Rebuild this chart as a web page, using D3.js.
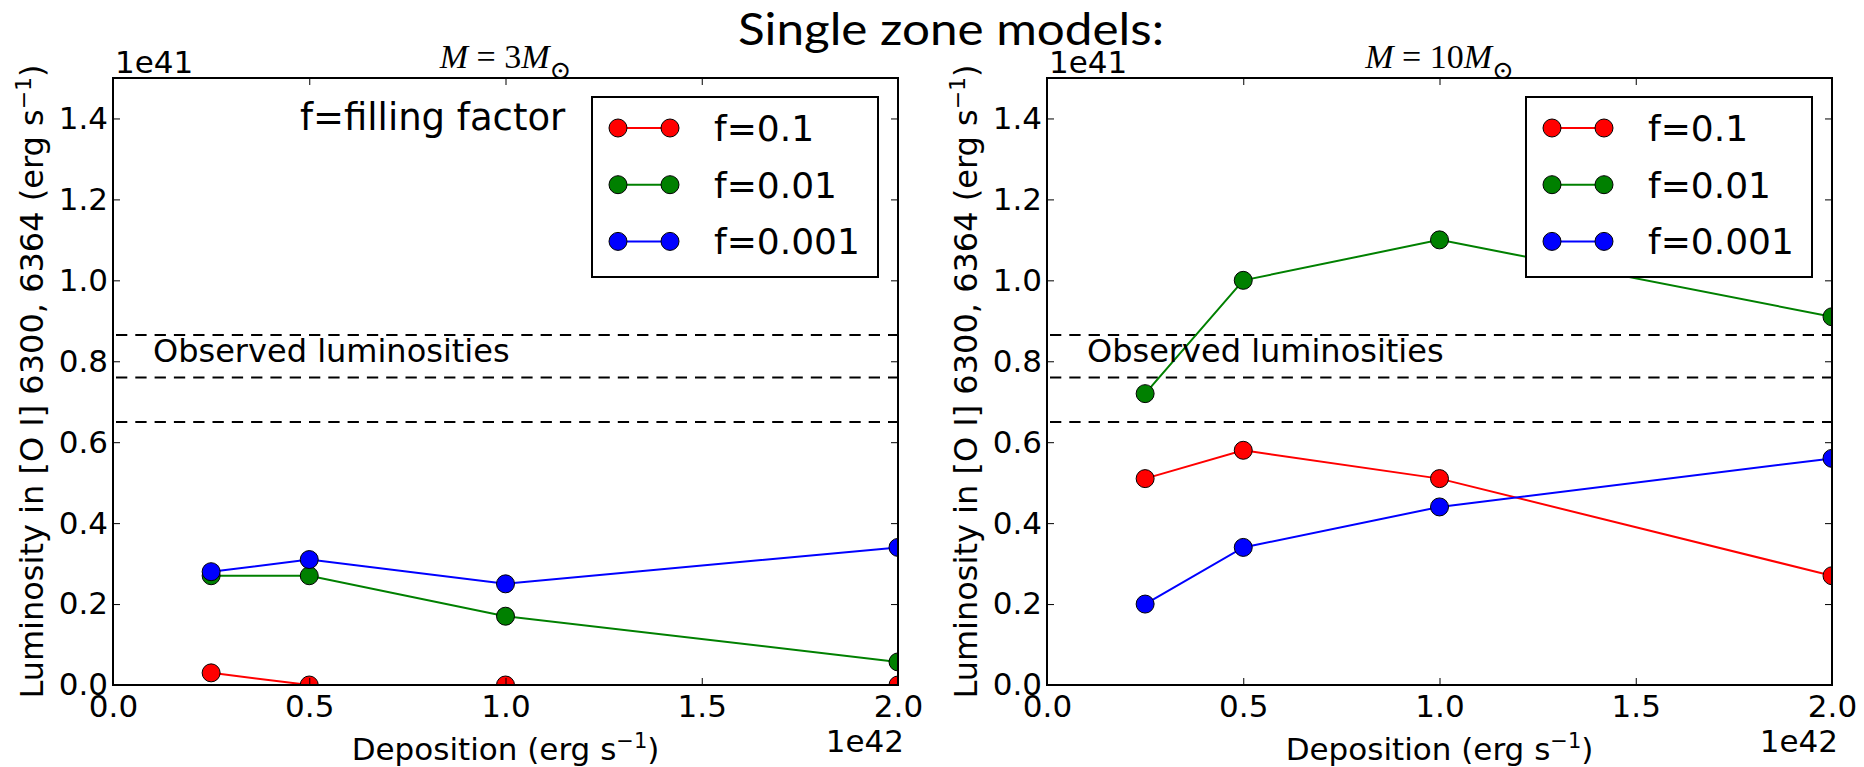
<!DOCTYPE html>
<html>
<head>
<meta charset="utf-8">
<script src="https://cdn.jsdelivr.net/npm/d3@7/dist/d3.min.js"></script>
<style>
  html, body { margin: 0; padding: 0; background: #fff; }
  svg { display: block; }
  text { font-family: "DejaVu Sans", sans-serif; fill: #000; }
</style>
</head>
<body>
<svg id="chart" width="1864" height="767"></svg>
<script>
// ---- data ----
const deposition = [0.25, 0.5, 1.0, 2.0];           // x values (units of 1e42 erg/s)
const seriesNames = ["f=0.1", "f=0.01", "f=0.001"];
const seriesColors = ["#ff0000", "#008000", "#0000ff"];
const m3_f01   = [0.03, 0.0, 0.0, 0.0];
const m3_f001  = [0.27, 0.27, 0.17, 0.057];
const m3_f0001 = [0.28, 0.31, 0.25, 0.34];
const m10_f01   = [0.51, 0.58, 0.51, 0.27];
const m10_f001  = [0.72, 1.00, 1.10, 0.91];
const m10_f0001 = [0.20, 0.34, 0.44, 0.56];
const observedLum = [0.865, 0.76, 0.65];
const xTicks = [0.0, 0.5, 1.0, 1.5, 2.0];
const yTicks = [0.0, 0.2, 0.4, 0.6, 0.8, 1.0, 1.2, 1.4];
const panels = [
  { massLabel: "3", series: [m3_f01, m3_f001, m3_f0001], note: "f=filling factor" },
  { massLabel: "10", series: [m10_f01, m10_f001, m10_f0001], note: null }
];

// ---- layout ----
const svg = d3.select("#chart");
const plotW = 785, plotH = 607;
const plotTop = 78;
const plotLefts = [113, 1047];
const fmt = d3.format(".1f");

svg.append("text")
  .attr("x", 951).attr("y", 45)
  .attr("text-anchor", "middle")
  .style("font-family", "Lato, 'Open Sans', sans-serif")
  .style("font-size", "44px")
  .attr("textLength", 426).attr("lengthAdjust", "spacingAndGlyphs")
  .text("Single zone models:");

panels.forEach((p, pi) => {
  const g = svg.append("g").attr("transform", `translate(${plotLefts[pi]},${plotTop})`);
  const x = d3.scaleLinear().domain([0, 2]).range([0, plotW]);
  const y = d3.scaleLinear().domain([0, 1.5]).range([plotH, 0]);

  const clipId = "clip" + pi;
  g.append("clipPath").attr("id", clipId)
    .append("rect").attr("width", plotW).attr("height", plotH);

  const data = g.append("g").attr("clip-path", `url(#${clipId})`);

  // observed luminosity dashed lines
  data.selectAll("line.obs").data(observedLum).enter().append("line")
    .attr("x1", x(0)).attr("x2", x(2))
    .attr("y1", d => y(d)).attr("y2", d => y(d))
    .attr("stroke", "#000").attr("stroke-width", 2)
    .attr("stroke-dasharray", "11.3,8").attr("stroke-dashoffset", 16.3);

  const line = d3.line().x((d, i) => x(deposition[i])).y(d => y(d));
  p.series.forEach((s, si) => {
    data.append("path").datum(s)
      .attr("d", line).attr("fill", "none")
      .attr("stroke", seriesColors[si]).attr("stroke-width", 2);
  });
  p.series.forEach((s, si) => {
    data.selectAll(null).data(s).enter().append("circle")
      .attr("cx", (d, i) => x(deposition[i])).attr("cy", d => y(d))
      .attr("r", 9).attr("fill", seriesColors[si])
      .attr("stroke", "#000").attr("stroke-width", 1);
  });

  // axes: ticks inward on all sides
  const tl = 7;
  const axB = d3.axisBottom(x).tickValues(xTicks).tickFormat(fmt).tickSizeInner(-tl).tickSizeOuter(0).tickPadding(10);
  const axT = d3.axisTop(x).tickValues(xTicks).tickFormat("").tickSizeInner(-tl).tickSizeOuter(0);
  const axL = d3.axisLeft(y).tickValues(yTicks).tickFormat(fmt).tickSizeInner(-tl).tickSizeOuter(0).tickPadding(5);
  const axR = d3.axisRight(y).tickValues(yTicks).tickFormat("").tickSizeInner(-tl).tickSizeOuter(0);

  const gb = g.append("g").attr("transform", `translate(0,${plotH})`).call(axB);
  const gt = g.append("g").call(axT);
  const gl = g.append("g").call(axL);
  const gr = g.append("g").attr("transform", `translate(${plotW},0)`).call(axR);
  [gb, gt, gl, gr].forEach(a => {
    a.select(".domain").remove();
    a.selectAll(".tick line").attr("stroke", "#000").attr("stroke-width", 1);
    a.selectAll(".tick text").style("font-family", "'DejaVu Sans', sans-serif").style("font-size", "31px").attr("fill", "#000");
  });
  g.append("rect").attr("width", plotW).attr("height", plotH)
    .attr("fill", "none").attr("stroke", "#000").attr("stroke-width", 2);

  // offset labels
  g.append("text").attr("x", 2).attr("y", -5).style("font-size", "31px").text("1e41");
  g.append("text").attr("x", plotW + 6).attr("y", plotH + 67).attr("text-anchor", "end").style("font-size", "31px").text("1e42");

  // x label
  const xl = g.append("text").attr("x", plotW / 2).attr("y", plotH + 75)
    .attr("text-anchor", "middle").style("font-size", "31px");
  xl.append("tspan").text("Deposition (erg s");
  xl.append("tspan").attr("dy", -12).style("font-size", "21px").text("\u22121");
  xl.append("tspan").attr("dy", 12).text(")");

  // y label
  const yl = g.append("text")
    .attr("transform", `translate(${-70},${plotH / 2}) rotate(-90)`)
    .attr("text-anchor", "middle").style("font-size", "32px");
  yl.append("tspan").text("Luminosity in [O I] 6300, 6364 (erg s");
  yl.append("tspan").attr("dy", -12).style("font-size", "22px").text("\u22121");
  yl.append("tspan").attr("dy", 12).text(")");

  // panel title (math style)
  const tt = g.append("text").attr("x", plotW / 2).attr("y", -10)
    .attr("text-anchor", "middle")
    .style("font-family", "'Liberation Serif', 'DejaVu Serif', serif").style("font-size", "34px");
  tt.append("tspan").style("font-style", "italic").text("M");
  tt.append("tspan").text(" = " + p.massLabel);
  tt.append("tspan").style("font-style", "italic").text("M");
  tt.append("tspan").attr("dy", 11).style("font-size", "26px").text("\u2299");

  // observed luminosities label
  g.append("text").attr("x", 40).attr("y", 284).style("font-size", "32px").text("Observed luminosities");

  if (p.note) {
    g.append("text").attr("x", 187).attr("y", 52)
      .style("font-size", "37px").text(p.note);
  }

  // legend
  const lg = g.append("g").attr("transform", `translate(${plotW - 20 - 286},19)`);
  lg.append("rect").attr("width", 286).attr("height", 180)
    .attr("fill", "#fff").attr("stroke", "#000").attr("stroke-width", 2);
  seriesNames.forEach((n, si) => {
    const yy = 31 + si * 56.7;
    lg.append("line").attr("x1", 26).attr("x2", 78).attr("y1", yy).attr("y2", yy)
      .attr("stroke", seriesColors[si]).attr("stroke-width", 2);
    [26, 78].forEach(cx => lg.append("circle").attr("cx", cx).attr("cy", yy).attr("r", 9)
      .attr("fill", seriesColors[si]).attr("stroke", "#000").attr("stroke-width", 1));
    lg.append("text").attr("x", 122).attr("y", yy + 13).style("font-size", "36px").text(n);
  });
});
</script>
</body>
</html>
